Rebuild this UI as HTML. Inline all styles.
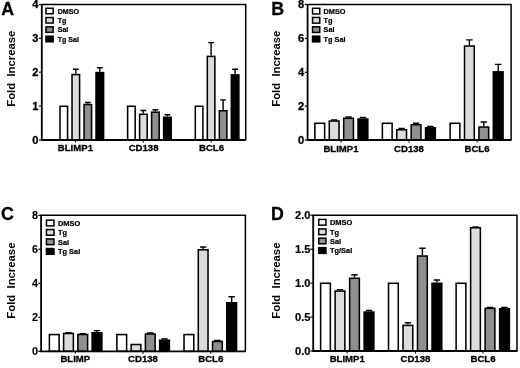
<!DOCTYPE html>
<html><head><meta charset="utf-8"><title>Figure</title>
<style>
html,body{margin:0;padding:0;background:#fff;}
body{width:520px;height:368px;overflow:hidden;}
svg{display:block;filter:blur(0.3px);font-family:"Liberation Sans", sans-serif;fill:#000;}
</style></head><body>
<svg width="520" height="368" viewBox="0 0 520 368">
<rect width="520" height="368" fill="#fff"/>
<path d="M41.8 4.5 H245.7 V140.0" fill="none" stroke="#000" stroke-width="1.5"/>
<rect x="60.02" y="106.28" width="7.55" height="33.73" fill="#ffffff" stroke="#000" stroke-width="1.55"/>
<path d="M75.80 73.80 V69.25 M72.90 69.25 H78.70" fill="none" stroke="#000" stroke-width="1.4"/>
<rect x="72.03" y="74.58" width="7.55" height="65.42" fill="#dcdcdc" stroke="#000" stroke-width="1.55"/>
<path d="M87.80 103.80 V102.50 M84.90 102.50 H90.70" fill="none" stroke="#000" stroke-width="1.4"/>
<rect x="84.03" y="104.58" width="7.55" height="35.43" fill="#8f8f8f" stroke="#000" stroke-width="1.55"/>
<path d="M99.80 71.80 V67.70 M96.90 67.70 H102.70" fill="none" stroke="#000" stroke-width="1.4"/>
<rect x="96.03" y="72.58" width="7.55" height="67.42" fill="#000000" stroke="#000" stroke-width="1.55"/>
<rect x="127.62" y="106.28" width="7.55" height="33.73" fill="#ffffff" stroke="#000" stroke-width="1.55"/>
<path d="M143.40 113.50 V110.50 M140.50 110.50 H146.30" fill="none" stroke="#000" stroke-width="1.4"/>
<rect x="139.62" y="114.28" width="7.55" height="25.73" fill="#dcdcdc" stroke="#000" stroke-width="1.55"/>
<path d="M155.40 111.40 V109.80 M152.50 109.80 H158.30" fill="none" stroke="#000" stroke-width="1.4"/>
<rect x="151.62" y="112.18" width="7.55" height="27.82" fill="#8f8f8f" stroke="#000" stroke-width="1.55"/>
<path d="M167.40 116.50 V114.70 M164.50 114.70 H170.30" fill="none" stroke="#000" stroke-width="1.4"/>
<rect x="163.62" y="117.28" width="7.55" height="22.73" fill="#000000" stroke="#000" stroke-width="1.55"/>
<rect x="195.32" y="106.28" width="7.55" height="33.73" fill="#ffffff" stroke="#000" stroke-width="1.55"/>
<path d="M211.10 55.60 V42.60 M208.20 42.60 H214.00" fill="none" stroke="#000" stroke-width="1.4"/>
<rect x="207.32" y="56.38" width="7.55" height="83.62" fill="#dcdcdc" stroke="#000" stroke-width="1.55"/>
<path d="M223.10 110.00 V99.90 M220.20 99.90 H226.00" fill="none" stroke="#000" stroke-width="1.4"/>
<rect x="219.32" y="110.78" width="7.55" height="29.23" fill="#8f8f8f" stroke="#000" stroke-width="1.55"/>
<path d="M235.10 74.10 V69.20 M232.20 69.20 H238.00" fill="none" stroke="#000" stroke-width="1.4"/>
<rect x="231.32" y="74.88" width="7.55" height="65.12" fill="#000000" stroke="#000" stroke-width="1.55"/>
<path d="M41.8 4.0 V140.0 H246.2" fill="none" stroke="#000" stroke-width="1.8" stroke-linejoin="miter"/>
<line x1="39.0" x2="41.8" y1="4.5" y2="4.5" stroke="#000" stroke-width="1.2"/>
<text transform="translate(38.40 8.45) scale(1.0 1)" text-anchor="end" font-size="11.1" font-weight="bold" stroke="#000" stroke-width="0.3">4</text>
<line x1="39.0" x2="41.8" y1="38.3" y2="38.3" stroke="#000" stroke-width="1.2"/>
<text transform="translate(38.40 42.25) scale(1.0 1)" text-anchor="end" font-size="11.1" font-weight="bold" stroke="#000" stroke-width="0.3">3</text>
<line x1="39.0" x2="41.8" y1="72.2" y2="72.2" stroke="#000" stroke-width="1.2"/>
<text transform="translate(38.40 76.15) scale(1.0 1)" text-anchor="end" font-size="11.1" font-weight="bold" stroke="#000" stroke-width="0.3">2</text>
<line x1="39.0" x2="41.8" y1="106.0" y2="106.0" stroke="#000" stroke-width="1.2"/>
<text transform="translate(38.40 109.95) scale(1.0 1)" text-anchor="end" font-size="11.1" font-weight="bold" stroke="#000" stroke-width="0.3">1</text>
<line x1="39.0" x2="41.8" y1="140.0" y2="140.0" stroke="#000" stroke-width="1.2"/>
<text transform="translate(38.40 143.95) scale(1.0 1)" text-anchor="end" font-size="11.1" font-weight="bold" stroke="#000" stroke-width="0.3">0</text>
<line x1="75.6" x2="75.6" y1="140.0" y2="142.6" stroke="#000" stroke-width="1"/>
<line x1="143.2" x2="143.2" y1="140.0" y2="142.6" stroke="#000" stroke-width="1"/>
<line x1="211.2" x2="211.2" y1="140.0" y2="142.6" stroke="#000" stroke-width="1"/>
<text transform="translate(75.40 151.10) scale(1.03 1)" text-anchor="middle" font-size="9.3" font-weight="bold" stroke="#000" stroke-width="0.3">BLIMP1</text>
<text transform="translate(143.60 151.10) scale(1.03 1)" text-anchor="middle" font-size="9.3" font-weight="bold" stroke="#000" stroke-width="0.3">CD138</text>
<text transform="translate(211.50 151.10) scale(1.03 1)" text-anchor="middle" font-size="9.3" font-weight="bold" stroke="#000" stroke-width="0.3">BCL6</text>
<text transform="translate(1.20 14.80) scale(1.0 1)" text-anchor="start" font-size="17.8" font-weight="bold" stroke="#000" stroke-width="0.3">A</text>
<text transform="translate(14.5 68.7) rotate(-90) scale(1.03 1)" text-anchor="middle" font-size="11" font-weight="bold" style="white-space:pre">Fold  Increase</text>
<rect x="45.95" y="8.25" width="7.20" height="5.50" fill="#ffffff" stroke="#000" stroke-width="1.5"/>
<text transform="translate(57.70 13.80) scale(0.895 1)" text-anchor="start" font-size="7.9" font-weight="bold" stroke="#000" stroke-width="0.25">DMSO</text>
<rect x="45.95" y="17.55" width="7.20" height="5.50" fill="#dcdcdc" stroke="#000" stroke-width="1.5"/>
<text transform="translate(57.70 23.10) scale(0.895 1)" text-anchor="start" font-size="7.9" font-weight="bold" stroke="#000" stroke-width="0.25">Tg</text>
<rect x="45.95" y="26.85" width="7.20" height="5.50" fill="#8f8f8f" stroke="#000" stroke-width="1.5"/>
<text transform="translate(57.70 32.40) scale(0.895 1)" text-anchor="start" font-size="7.9" font-weight="bold" stroke="#000" stroke-width="0.25">Sal</text>
<rect x="45.95" y="36.25" width="7.20" height="5.50" fill="#000000" stroke="#000" stroke-width="1.5"/>
<text transform="translate(57.70 41.80) scale(0.895 1)" text-anchor="start" font-size="7.9" font-weight="bold" stroke="#000" stroke-width="0.25">Tg Sal</text>
<path d="M307.6 4.4 H511.1 V140.0" fill="none" stroke="#000" stroke-width="1.5"/>
<rect x="314.88" y="123.28" width="9.75" height="16.73" fill="#ffffff" stroke="#000" stroke-width="1.55"/>
<path d="M334.15 120.25 V120.00 M330.95 120.00 H337.35" fill="none" stroke="#000" stroke-width="1.4"/>
<rect x="329.27" y="121.03" width="9.75" height="18.98" fill="#dcdcdc" stroke="#000" stroke-width="1.55"/>
<path d="M348.55 117.50 V117.00 M345.35 117.00 H351.75" fill="none" stroke="#000" stroke-width="1.4"/>
<rect x="343.68" y="118.28" width="9.75" height="21.73" fill="#8f8f8f" stroke="#000" stroke-width="1.55"/>
<path d="M362.95 118.25 V117.50 M359.75 117.50 H366.15" fill="none" stroke="#000" stroke-width="1.4"/>
<rect x="358.07" y="119.03" width="9.75" height="20.98" fill="#000000" stroke="#000" stroke-width="1.55"/>
<rect x="382.38" y="123.28" width="9.75" height="16.73" fill="#ffffff" stroke="#000" stroke-width="1.55"/>
<path d="M401.65 129.00 V128.50 M398.45 128.50 H404.85" fill="none" stroke="#000" stroke-width="1.4"/>
<rect x="396.77" y="129.78" width="9.75" height="10.22" fill="#dcdcdc" stroke="#000" stroke-width="1.55"/>
<path d="M416.05 124.00 V123.30 M412.85 123.30 H419.25" fill="none" stroke="#000" stroke-width="1.4"/>
<rect x="411.18" y="124.78" width="9.75" height="15.22" fill="#8f8f8f" stroke="#000" stroke-width="1.55"/>
<path d="M430.45 127.00 V126.50 M427.25 126.50 H433.65" fill="none" stroke="#000" stroke-width="1.4"/>
<rect x="425.57" y="127.78" width="9.75" height="12.22" fill="#000000" stroke="#000" stroke-width="1.55"/>
<rect x="450.12" y="123.28" width="9.75" height="16.73" fill="#ffffff" stroke="#000" stroke-width="1.55"/>
<path d="M469.40 45.25 V39.90 M466.20 39.90 H472.60" fill="none" stroke="#000" stroke-width="1.4"/>
<rect x="464.52" y="46.02" width="9.75" height="93.97" fill="#dcdcdc" stroke="#000" stroke-width="1.55"/>
<path d="M483.80 126.25 V122.00 M480.60 122.00 H487.00" fill="none" stroke="#000" stroke-width="1.4"/>
<rect x="478.93" y="127.03" width="9.75" height="12.97" fill="#8f8f8f" stroke="#000" stroke-width="1.55"/>
<path d="M498.20 71.10 V64.40 M495.00 64.40 H501.40" fill="none" stroke="#000" stroke-width="1.4"/>
<rect x="493.32" y="71.88" width="9.75" height="68.12" fill="#000000" stroke="#000" stroke-width="1.55"/>
<path d="M307.6 3.9000000000000004 V140.0 H511.6" fill="none" stroke="#000" stroke-width="1.8" stroke-linejoin="miter"/>
<line x1="304.8" x2="307.6" y1="4.4" y2="4.4" stroke="#000" stroke-width="1.2"/>
<text transform="translate(304.20 8.35) scale(1.0 1)" text-anchor="end" font-size="11.1" font-weight="bold" stroke="#000" stroke-width="0.3">8</text>
<line x1="304.8" x2="307.6" y1="38.4" y2="38.4" stroke="#000" stroke-width="1.2"/>
<text transform="translate(304.20 42.35) scale(1.0 1)" text-anchor="end" font-size="11.1" font-weight="bold" stroke="#000" stroke-width="0.3">6</text>
<line x1="304.8" x2="307.6" y1="72.3" y2="72.3" stroke="#000" stroke-width="1.2"/>
<text transform="translate(304.20 76.25) scale(1.0 1)" text-anchor="end" font-size="11.1" font-weight="bold" stroke="#000" stroke-width="0.3">4</text>
<line x1="304.8" x2="307.6" y1="106.2" y2="106.2" stroke="#000" stroke-width="1.2"/>
<text transform="translate(304.20 110.15) scale(1.0 1)" text-anchor="end" font-size="11.1" font-weight="bold" stroke="#000" stroke-width="0.3">2</text>
<line x1="304.8" x2="307.6" y1="140.0" y2="140.0" stroke="#000" stroke-width="1.2"/>
<text transform="translate(304.20 143.95) scale(1.0 1)" text-anchor="end" font-size="11.1" font-weight="bold" stroke="#000" stroke-width="0.3">0</text>
<line x1="341.0" x2="341.0" y1="140.0" y2="142.6" stroke="#000" stroke-width="1"/>
<line x1="409.0" x2="409.0" y1="140.0" y2="142.6" stroke="#000" stroke-width="1"/>
<line x1="477.0" x2="477.0" y1="140.0" y2="142.6" stroke="#000" stroke-width="1"/>
<text transform="translate(341.00 151.50) scale(1.03 1)" text-anchor="middle" font-size="9.3" font-weight="bold" stroke="#000" stroke-width="0.3">BLIMP1</text>
<text transform="translate(409.00 151.50) scale(1.03 1)" text-anchor="middle" font-size="9.3" font-weight="bold" stroke="#000" stroke-width="0.3">CD138</text>
<text transform="translate(477.00 151.50) scale(1.03 1)" text-anchor="middle" font-size="9.3" font-weight="bold" stroke="#000" stroke-width="0.3">BCL6</text>
<text transform="translate(271.20 14.70) scale(1.0 1)" text-anchor="start" font-size="17.8" font-weight="bold" stroke="#000" stroke-width="0.3">B</text>
<text transform="translate(280.1 68.7) rotate(-90) scale(1.03 1)" text-anchor="middle" font-size="11" font-weight="bold" style="white-space:pre">Fold  Increase</text>
<rect x="312.55" y="8.25" width="7.20" height="5.70" fill="#ffffff" stroke="#000" stroke-width="1.5"/>
<text transform="translate(323.50 13.90) scale(0.93 1)" text-anchor="start" font-size="7.9" font-weight="bold" stroke="#000" stroke-width="0.25">DMSO</text>
<rect x="312.55" y="17.45" width="7.20" height="5.70" fill="#dcdcdc" stroke="#000" stroke-width="1.5"/>
<text transform="translate(323.50 23.10) scale(0.93 1)" text-anchor="start" font-size="7.9" font-weight="bold" stroke="#000" stroke-width="0.25">Tg</text>
<rect x="312.55" y="26.75" width="7.20" height="5.70" fill="#8f8f8f" stroke="#000" stroke-width="1.5"/>
<text transform="translate(323.50 32.40) scale(0.93 1)" text-anchor="start" font-size="7.9" font-weight="bold" stroke="#000" stroke-width="0.25">Sal</text>
<rect x="312.55" y="36.15" width="7.20" height="5.70" fill="#000000" stroke="#000" stroke-width="1.5"/>
<text transform="translate(323.50 41.80) scale(0.93 1)" text-anchor="start" font-size="7.9" font-weight="bold" stroke="#000" stroke-width="0.25">Tg Sal</text>
<path d="M41.1 215.3 H245.4 V351.3" fill="none" stroke="#000" stroke-width="1.5"/>
<rect x="49.38" y="334.57" width="9.75" height="16.73" fill="#ffffff" stroke="#000" stroke-width="1.55"/>
<path d="M68.50 332.75 V332.80 M65.30 332.80 H71.70" fill="none" stroke="#000" stroke-width="1.4"/>
<rect x="63.62" y="333.52" width="9.75" height="17.78" fill="#dcdcdc" stroke="#000" stroke-width="1.55"/>
<path d="M82.75 333.75 V333.80 M79.55 333.80 H85.95" fill="none" stroke="#000" stroke-width="1.4"/>
<rect x="77.88" y="334.52" width="9.75" height="16.78" fill="#8f8f8f" stroke="#000" stroke-width="1.55"/>
<path d="M97.00 332.00 V330.60 M93.80 330.60 H100.20" fill="none" stroke="#000" stroke-width="1.4"/>
<rect x="92.12" y="332.77" width="9.75" height="18.53" fill="#000000" stroke="#000" stroke-width="1.55"/>
<rect x="116.88" y="334.57" width="9.75" height="16.73" fill="#ffffff" stroke="#000" stroke-width="1.55"/>
<rect x="131.12" y="344.52" width="9.75" height="6.78" fill="#dcdcdc" stroke="#000" stroke-width="1.55"/>
<path d="M150.25 333.25 V333.00 M147.05 333.00 H153.45" fill="none" stroke="#000" stroke-width="1.4"/>
<rect x="145.38" y="334.02" width="9.75" height="17.28" fill="#8f8f8f" stroke="#000" stroke-width="1.55"/>
<path d="M164.50 339.50 V339.00 M161.30 339.00 H167.70" fill="none" stroke="#000" stroke-width="1.4"/>
<rect x="159.62" y="340.27" width="9.75" height="11.03" fill="#000000" stroke="#000" stroke-width="1.55"/>
<rect x="184.03" y="334.57" width="9.75" height="16.73" fill="#ffffff" stroke="#000" stroke-width="1.55"/>
<path d="M203.15 249.00 V247.00 M199.95 247.00 H206.35" fill="none" stroke="#000" stroke-width="1.4"/>
<rect x="198.28" y="249.78" width="9.75" height="101.53" fill="#dcdcdc" stroke="#000" stroke-width="1.55"/>
<path d="M217.40 340.75 V340.50 M214.20 340.50 H220.60" fill="none" stroke="#000" stroke-width="1.4"/>
<rect x="212.53" y="341.52" width="9.75" height="9.78" fill="#8f8f8f" stroke="#000" stroke-width="1.55"/>
<path d="M231.65 302.00 V296.75 M228.45 296.75 H234.85" fill="none" stroke="#000" stroke-width="1.4"/>
<rect x="226.78" y="302.77" width="9.75" height="48.53" fill="#000000" stroke="#000" stroke-width="1.55"/>
<path d="M41.1 214.8 V351.3 H245.9" fill="none" stroke="#000" stroke-width="1.8" stroke-linejoin="miter"/>
<line x1="38.300000000000004" x2="41.1" y1="215.3" y2="215.3" stroke="#000" stroke-width="1.2"/>
<text transform="translate(38.10 219.25) scale(1.0 1)" text-anchor="end" font-size="10.8" font-weight="bold" stroke="#000" stroke-width="0.1">8</text>
<line x1="38.300000000000004" x2="41.1" y1="249.3" y2="249.3" stroke="#000" stroke-width="1.2"/>
<text transform="translate(38.10 253.25) scale(1.0 1)" text-anchor="end" font-size="10.8" font-weight="bold" stroke="#000" stroke-width="0.1">6</text>
<line x1="38.300000000000004" x2="41.1" y1="283.3" y2="283.3" stroke="#000" stroke-width="1.2"/>
<text transform="translate(38.10 287.25) scale(1.0 1)" text-anchor="end" font-size="10.8" font-weight="bold" stroke="#000" stroke-width="0.1">4</text>
<line x1="38.300000000000004" x2="41.1" y1="317.3" y2="317.3" stroke="#000" stroke-width="1.2"/>
<text transform="translate(38.10 321.25) scale(1.0 1)" text-anchor="end" font-size="10.8" font-weight="bold" stroke="#000" stroke-width="0.1">2</text>
<line x1="38.300000000000004" x2="41.1" y1="351.3" y2="351.3" stroke="#000" stroke-width="1.2"/>
<text transform="translate(38.10 355.25) scale(1.0 1)" text-anchor="end" font-size="10.8" font-weight="bold" stroke="#000" stroke-width="0.1">0</text>
<line x1="75.3" x2="75.3" y1="351.3" y2="353.90000000000003" stroke="#000" stroke-width="1"/>
<line x1="143.0" x2="143.0" y1="351.3" y2="353.90000000000003" stroke="#000" stroke-width="1"/>
<line x1="210.8" x2="210.8" y1="351.3" y2="353.90000000000003" stroke="#000" stroke-width="1"/>
<text transform="translate(75.30 362.40) scale(1.03 1)" text-anchor="middle" font-size="9.3" font-weight="bold" stroke="#000" stroke-width="0.3">BLIMP</text>
<text transform="translate(143.00 362.40) scale(1.03 1)" text-anchor="middle" font-size="9.3" font-weight="bold" stroke="#000" stroke-width="0.3">CD138</text>
<text transform="translate(210.80 362.40) scale(1.03 1)" text-anchor="middle" font-size="9.3" font-weight="bold" stroke="#000" stroke-width="0.3">BCL6</text>
<text transform="translate(1.00 220.00) scale(1.0 1)" text-anchor="start" font-size="17.8" font-weight="bold" stroke="#000" stroke-width="0.3">C</text>
<text transform="translate(14.5 280.6) rotate(-90) scale(1.03 1)" text-anchor="middle" font-size="11" font-weight="bold" style="white-space:pre">Fold  Increase</text>
<rect x="46.45" y="220.15" width="7.50" height="5.70" fill="#ffffff" stroke="#000" stroke-width="1.5"/>
<text transform="translate(58.00 225.80) scale(0.94 1)" text-anchor="start" font-size="7.9" font-weight="bold" stroke="#000" stroke-width="0.25">DMSO</text>
<rect x="46.45" y="229.55" width="7.50" height="5.70" fill="#dcdcdc" stroke="#000" stroke-width="1.5"/>
<text transform="translate(58.00 235.20) scale(0.94 1)" text-anchor="start" font-size="7.9" font-weight="bold" stroke="#000" stroke-width="0.25">Tg</text>
<rect x="46.45" y="238.95" width="7.50" height="5.70" fill="#8f8f8f" stroke="#000" stroke-width="1.5"/>
<text transform="translate(58.00 244.60) scale(0.94 1)" text-anchor="start" font-size="7.9" font-weight="bold" stroke="#000" stroke-width="0.25">Sal</text>
<rect x="46.45" y="248.55" width="7.50" height="5.70" fill="#000000" stroke="#000" stroke-width="1.5"/>
<text transform="translate(58.00 254.20) scale(0.94 1)" text-anchor="start" font-size="7.9" font-weight="bold" stroke="#000" stroke-width="0.25">Tg Sal</text>
<path d="M313.2 215.2 H517.0 V351.0" fill="none" stroke="#000" stroke-width="1.5"/>
<rect x="320.62" y="283.27" width="9.75" height="67.72" fill="#ffffff" stroke="#000" stroke-width="1.55"/>
<path d="M340.00 290.30 V289.60 M336.80 289.60 H343.20" fill="none" stroke="#000" stroke-width="1.4"/>
<rect x="335.12" y="291.07" width="9.75" height="59.92" fill="#dcdcdc" stroke="#000" stroke-width="1.55"/>
<path d="M354.50 277.50 V274.80 M351.30 274.80 H357.70" fill="none" stroke="#000" stroke-width="1.4"/>
<rect x="349.62" y="278.27" width="9.75" height="72.72" fill="#8f8f8f" stroke="#000" stroke-width="1.55"/>
<path d="M369.00 311.30 V310.50 M365.80 310.50 H372.20" fill="none" stroke="#000" stroke-width="1.4"/>
<rect x="364.12" y="312.07" width="9.75" height="38.92" fill="#000000" stroke="#000" stroke-width="1.55"/>
<rect x="388.52" y="283.27" width="9.75" height="67.72" fill="#ffffff" stroke="#000" stroke-width="1.55"/>
<path d="M407.90 324.60 V322.70 M404.70 322.70 H411.10" fill="none" stroke="#000" stroke-width="1.4"/>
<rect x="403.02" y="325.38" width="9.75" height="25.62" fill="#dcdcdc" stroke="#000" stroke-width="1.55"/>
<path d="M422.40 255.25 V248.25 M419.20 248.25 H425.60" fill="none" stroke="#000" stroke-width="1.4"/>
<rect x="417.52" y="256.02" width="9.75" height="94.97" fill="#8f8f8f" stroke="#000" stroke-width="1.55"/>
<path d="M436.90 282.50 V280.00 M433.70 280.00 H440.10" fill="none" stroke="#000" stroke-width="1.4"/>
<rect x="432.02" y="283.27" width="9.75" height="67.72" fill="#000000" stroke="#000" stroke-width="1.55"/>
<rect x="456.12" y="283.27" width="9.75" height="67.72" fill="#ffffff" stroke="#000" stroke-width="1.55"/>
<path d="M475.50 227.00 V227.00 M472.30 227.00 H478.70" fill="none" stroke="#000" stroke-width="1.4"/>
<rect x="470.62" y="227.78" width="9.75" height="123.22" fill="#dcdcdc" stroke="#000" stroke-width="1.55"/>
<path d="M490.00 307.60 V307.40 M486.80 307.40 H493.20" fill="none" stroke="#000" stroke-width="1.4"/>
<rect x="485.12" y="308.38" width="9.75" height="42.62" fill="#8f8f8f" stroke="#000" stroke-width="1.55"/>
<path d="M504.50 308.00 V307.40 M501.30 307.40 H507.70" fill="none" stroke="#000" stroke-width="1.4"/>
<rect x="499.62" y="308.77" width="9.75" height="42.23" fill="#000000" stroke="#000" stroke-width="1.55"/>
<path d="M313.2 214.7 V351.0 H517.5" fill="none" stroke="#000" stroke-width="1.8" stroke-linejoin="miter"/>
<line x1="310.4" x2="313.2" y1="215.2" y2="215.2" stroke="#000" stroke-width="1.2"/>
<text transform="translate(310.40 219.15) scale(1.0 1)" text-anchor="end" font-size="11.1" font-weight="bold" stroke="#000" stroke-width="0.2">2.0</text>
<line x1="310.4" x2="313.2" y1="249.2" y2="249.2" stroke="#000" stroke-width="1.2"/>
<text transform="translate(310.40 253.15) scale(1.0 1)" text-anchor="end" font-size="11.1" font-weight="bold" stroke="#000" stroke-width="0.2">1.5</text>
<line x1="310.4" x2="313.2" y1="283.1" y2="283.1" stroke="#000" stroke-width="1.2"/>
<text transform="translate(310.40 287.05) scale(1.0 1)" text-anchor="end" font-size="11.1" font-weight="bold" stroke="#000" stroke-width="0.2">1.0</text>
<line x1="310.4" x2="313.2" y1="317.1" y2="317.1" stroke="#000" stroke-width="1.2"/>
<text transform="translate(310.40 321.05) scale(1.0 1)" text-anchor="end" font-size="11.1" font-weight="bold" stroke="#000" stroke-width="0.2">0.5</text>
<line x1="310.4" x2="313.2" y1="351.0" y2="351.0" stroke="#000" stroke-width="1.2"/>
<text transform="translate(310.40 354.95) scale(1.0 1)" text-anchor="end" font-size="11.1" font-weight="bold" stroke="#000" stroke-width="0.2">0.0</text>
<line x1="347.2" x2="347.2" y1="351.0" y2="353.6" stroke="#000" stroke-width="1"/>
<line x1="415.4" x2="415.4" y1="351.0" y2="353.6" stroke="#000" stroke-width="1"/>
<line x1="483.0" x2="483.0" y1="351.0" y2="353.6" stroke="#000" stroke-width="1"/>
<text transform="translate(347.20 362.10) scale(1.03 1)" text-anchor="middle" font-size="9.3" font-weight="bold" stroke="#000" stroke-width="0.3">BLIMP1</text>
<text transform="translate(415.40 362.10) scale(1.03 1)" text-anchor="middle" font-size="9.3" font-weight="bold" stroke="#000" stroke-width="0.3">CD138</text>
<text transform="translate(483.00 362.10) scale(1.03 1)" text-anchor="middle" font-size="9.3" font-weight="bold" stroke="#000" stroke-width="0.3">BCL6</text>
<text transform="translate(271.00 219.80) scale(1.0 1)" text-anchor="start" font-size="17.8" font-weight="bold" stroke="#000" stroke-width="0.3">D</text>
<text transform="translate(280.1 280.6) rotate(-90) scale(1.03 1)" text-anchor="middle" font-size="11" font-weight="bold" style="white-space:pre">Fold  Increase</text>
<rect x="318.75" y="219.45" width="7.20" height="5.70" fill="#ffffff" stroke="#000" stroke-width="1.5"/>
<text transform="translate(330.00 225.10) scale(0.94 1)" text-anchor="start" font-size="7.9" font-weight="bold" stroke="#000" stroke-width="0.25">DMSO</text>
<rect x="318.75" y="228.95" width="7.20" height="5.70" fill="#dcdcdc" stroke="#000" stroke-width="1.5"/>
<text transform="translate(330.00 234.60) scale(0.94 1)" text-anchor="start" font-size="7.9" font-weight="bold" stroke="#000" stroke-width="0.25">Tg</text>
<rect x="318.75" y="238.15" width="7.20" height="5.70" fill="#8f8f8f" stroke="#000" stroke-width="1.5"/>
<text transform="translate(330.00 243.80) scale(0.94 1)" text-anchor="start" font-size="7.9" font-weight="bold" stroke="#000" stroke-width="0.25">Sal</text>
<rect x="318.75" y="247.65" width="7.20" height="5.70" fill="#000000" stroke="#000" stroke-width="1.5"/>
<text transform="translate(330.00 253.30) scale(0.94 1)" text-anchor="start" font-size="7.9" font-weight="bold" stroke="#000" stroke-width="0.25">Tg/Sal</text>
</svg>
</body></html>
